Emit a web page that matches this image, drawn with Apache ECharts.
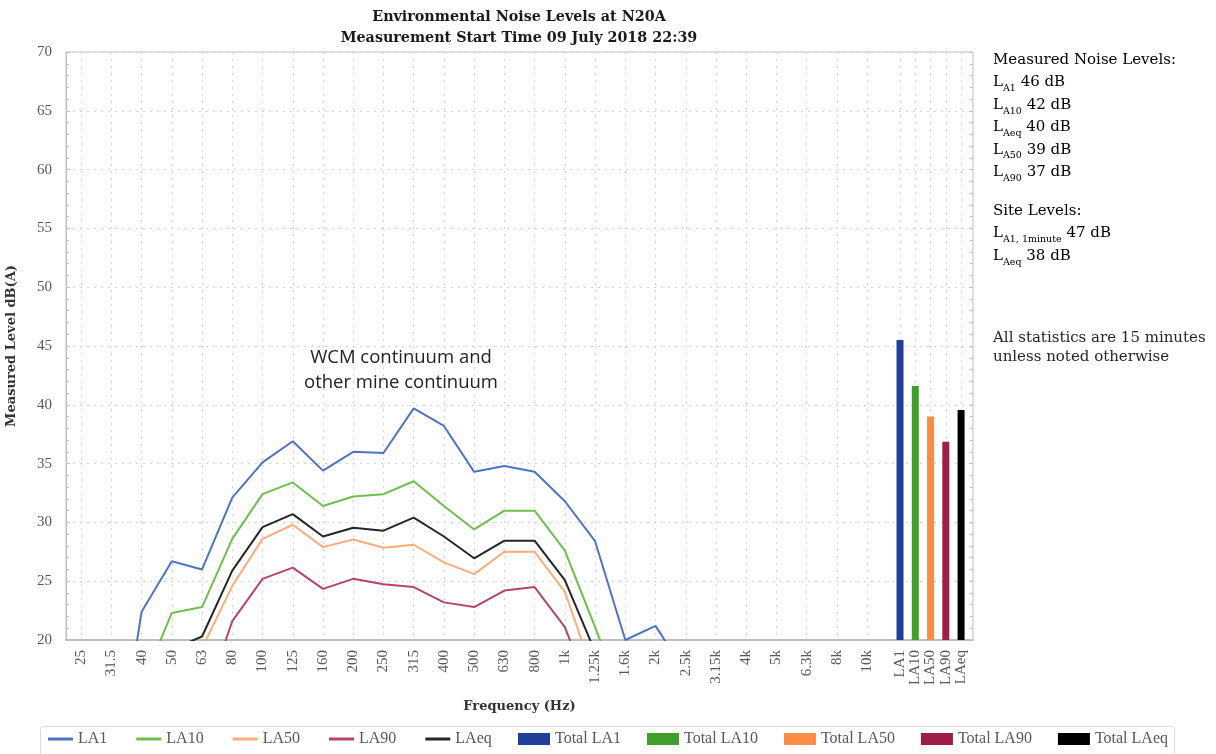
<!DOCTYPE html>
<html><head><meta charset="utf-8">
<script src="https://cdn.jsdelivr.net/npm/echarts@6/dist/echarts.min.js"></script>
<style>html,body{margin:0;padding:0;background:#fff}#c{width:1216px;height:754px}</style>
</head><body><div id="c"></div>
<script>
// ---------- data ----------
const freqLabels = ['25','31.5','40','50','63','80','100','125','160','200','250','315','400','500','630','800','1k','1.25k','1.6k','2k','2.5k','3.15k','4k','5k','6.3k','8k','10k'];
const la1  = [4, 6, 22.4, 26.7, 26.0, 32.1, 35.1, 36.9, 34.4, 36.0, 35.9, 39.7, 38.2, 34.3, 34.8, 34.3, 31.8, 28.4, 20.0, 21.2, 17.2, 15.5, 14, 13, 12, 11, 10];
const la10 = [3, 5, 16.1, 22.3, 22.8, 28.6, 32.4, 33.4, 31.4, 32.2, 32.4, 33.5, 31.4, 29.4, 31.0, 31.0, 27.6, 21.1, 14.4, 12, 11, 10, 9, 8, 7, 6, 5];
const la50 = [1, 3, 9, 15, 19.3, 24.6, 28.6, 29.8, 27.9, 28.55, 27.85, 28.1, 26.6, 25.6, 27.5, 27.5, 24.1, 16.7, 10, 9, 8, 7, 6, 5, 4, 3, 2];
const la90 = [0, 2, 6, 10, 14.1, 21.6, 25.2, 26.15, 24.35, 25.2, 24.75, 24.5, 23.2, 22.8, 24.2, 24.5, 21.1, 14.5, 8, 7, 6, 5, 4, 3, 2, 1, 0];
const laeq = [2, 4, 12, 19.2, 20.3, 25.9, 29.6, 30.7, 28.8, 29.55, 29.3, 30.4, 28.8, 26.95, 28.45, 28.45, 25.1, 19.0, 12, 11, 10, 9, 8, 7, 6, 5, 4];
const lineNames = ['LA1','LA10','LA50','LA90','LAeq'];
const totalLabels = ['LA1','LA10','LA50','LA90','LAeq'];
const totalNames = ['Total LA1','Total LA10','Total LA50','Total LA90','Total LAeq'];
const totalValues = [45.5, 41.6, 39.0, 36.85, 39.55];
const yTicks = [20, 25, 30, 35, 40, 45, 50, 55, 60, 65, 70];
const titleLines = ['Environmental Noise Levels at N20A', 'Measurement Start Time 09 July 2018 22:39'];
const annotationLines = ['WCM continuum and', 'other mine continuum'];
const measuredBlock = ['{m|Measured Noise Levels:}', '{m|L}{s|A1}{m| 46 dB}', '{m|L}{s|A10}{m| 42 dB}', '{m|L}{s|Aeq}{m| 40 dB}', '{m|L}{s|A50}{m| 39 dB}', '{m|L}{s|A90}{m| 37 dB}'];
const siteBlock = ['{m|Site Levels:}', '{m|L}{s|A1, 1minute}{m| 47 dB}', '{m|L}{s|Aeq}{m| 38 dB}'];
const noteBlock = ['All statistics are 15 minutes', 'unless noted otherwise'];

// ---------- styling ----------
const lineColors = ['#4f74c4', '#6fbf4b', '#ffab7a', '#b4456f', '#262626'];
const barColors = ['#213f99', '#41a02c', '#fb8c46', '#9e1e48', '#000000'];
const serif = 'Liberation Serif';
const pal = 'DejaVu Serif';
const gridC = '#bfbfbf';
const dotC = '#d3d3d3';

// half-step slots: frequency i sits on slot 2i+1
const nSlots = 2 * freqLabels.length + 7;
const slots = Array.from({length: nSlots}, () => '');
freqLabels.forEach((f, i) => { slots[2 * i + 1] = f; });
const toSlots = arr => { const out = Array.from({length: nSlots}, () => null); arr.forEach((v, i) => { out[2 * i + 1] = v; }); return out; };
const lineData = [la1, la10, la50, la90, laeq];

const plot = {left: 66, top: 52, width: 907, height: 588};

const chart = echarts.init(document.getElementById('c'), null, {renderer: 'canvas'});

const series = [];
lineNames.forEach((n, k) => {
  series.push({
    name: n, type: 'line', xAxisIndex: 0, yAxisIndex: 0,
    data: toSlots(lineData[k]), connectNulls: true,
    showSymbol: false, symbol: 'none', clip: true,
    lineStyle: {width: 2, color: lineColors[k]}, itemStyle: {color: lineColors[k]},
    z: 3, animation: false
  });
});
totalNames.forEach((n, k) => {
  series.push({
    name: n, type: 'bar', xAxisIndex: 1, yAxisIndex: 2,
    data: totalLabels.map((_, j) => j === k ? totalValues[k] : '-'),
    barWidth: 7, barGap: '-100%', clip: true,
    itemStyle: {color: barColors[k]}, animation: false
  });
});

const graphics = [];
titleLines.forEach((t, i) => graphics.push({
  type: 'text', x: 519, y: 17 + i * 21,
  style: {text: t, font: 'bold 14.3px "' + pal + '"', fill: '#1a1a1a', textAlign: 'center', textVerticalAlign: 'middle'}
}));
annotationLines.forEach((t, i) => graphics.push({
  type: 'text', x: 401, y: 358 + i * 25, z: 10,
  style: {text: t, font: '18.5px "Open Sans"', fill: '#222', textAlign: 'center', textVerticalAlign: 'middle'}
}));
const rich = {
  m: {fontFamily: pal, fontSize: 15, color: '#262626', lineHeight: 22.4},
  s: {fontFamily: pal, fontSize: 9.5, color: '#404040', lineHeight: 13, verticalAlign: 'bottom'}
};
graphics.push({type: 'text', x: 993, y: 49, style: {text: measuredBlock.join('\n'), rich: rich, textAlign: 'left', textVerticalAlign: 'top'}});
graphics.push({type: 'text', x: 993, y: 200, style: {text: siteBlock.join('\n'), rich: rich, textAlign: 'left', textVerticalAlign: 'top'}});
graphics.push({type: 'text', x: 993, y: 328, style: {text: noteBlock.join('\n'), font: '15px "' + pal + '"', fill: '#262626', lineHeight: 19.5, textAlign: 'left', textVerticalAlign: 'top'}});
graphics.push({type: 'rect', shape: {x: 40.5, y: 726.5, width: 1134, height: 40, r: 3}, style: {fill: 'none', stroke: '#d9d9d9', lineWidth: 1}, z: -1});

const option = {
  backgroundColor: '#fff',
  animation: false,
  grid: [
    Object.assign({show: true, borderColor: gridC, borderWidth: 1, backgroundColor: 'transparent', containLabel: false, outerBoundsMode: 'none'}, plot),
    {left: 892.4, width: 76.3, top: plot.top, height: plot.height, show: false, containLabel: false, outerBoundsMode: 'none'}
  ],
  xAxis: [
    {
      gridIndex: 0, type: 'category', boundaryGap: false, data: slots,
      name: 'Frequency (Hz)', nameLocation: 'middle', nameGap: 60,
      nameTextStyle: {fontFamily: pal, fontWeight: 'bold', fontSize: 13, color: '#333'},
      axisLine: {show: true, lineStyle: {color: gridC, width: 2}},
      axisTick: {show: false},
      axisLabel: {interval: 0, rotate: 90, margin: 10, fontFamily: serif, fontSize: 15, color: '#595959', hideOverlap: false},
      splitLine: {show: true, interval: (i) => i % 2 === 1 && i <= 2 * freqLabels.length - 1, lineStyle: {color: dotC, type: [2, 5], width: 1}}
    },
    {
      gridIndex: 1, type: 'category', boundaryGap: true, data: totalLabels,
      axisLine: {show: false}, axisTick: {show: false},
      axisLabel: {interval: 0, rotate: 90, margin: 10, fontFamily: serif, fontSize: 15, color: '#595959', hideOverlap: false},
      splitLine: {show: true, alignWithLabel: true, lineStyle: {color: dotC, type: [2, 5], width: 1}}
    }
  ],
  yAxis: [
    {
      gridIndex: 0, type: 'value', min: yTicks[0], max: yTicks[yTicks.length - 1], interval: yTicks[1] - yTicks[0],
      name: 'Measured Level dB(A)', nameLocation: 'middle', nameGap: 48, nameRotate: 90,
      nameTextStyle: {fontFamily: pal, fontWeight: 'bold', fontSize: 13, color: '#333'},
      axisLine: {show: true, lineStyle: {color: gridC, width: 1}},
      axisTick: {show: true, inside: true, length: 4, lineStyle: {color: gridC}},
      minorTick: {show: true, splitNumber: 5, length: 3, lineStyle: {color: gridC}},
      axisLabel: {margin: 14, fontFamily: serif, fontSize: 15, color: '#595959'},
      splitLine: {show: true, lineStyle: {color: dotC, type: [2, 5], width: 1}}
    },
    {
      gridIndex: 0, type: 'value', position: 'right', min: yTicks[0], max: yTicks[yTicks.length - 1], interval: yTicks[1] - yTicks[0],
      axisLine: {show: false}, axisLabel: {show: false}, splitLine: {show: false},
      axisTick: {show: true, inside: true, length: 4, lineStyle: {color: gridC}},
      minorTick: {show: true, splitNumber: 5, length: 3, lineStyle: {color: gridC}}
    },
    {gridIndex: 1, type: 'value', min: yTicks[0], max: yTicks[yTicks.length - 1], show: false, splitLine: {show: false}}
  ],
  legend: [
    {
      data: lineNames, left: 48, top: 731, padding: 0, icon: 'rect', itemWidth: 25, itemHeight: 3, itemGap: 29,
      textStyle: {fontFamily: serif, fontSize: 16, color: '#595959'}, selectedMode: false
    },
    {
      data: totalNames, left: 518, top: 731, padding: 0, icon: 'rect', itemWidth: 32, itemHeight: 12, itemGap: 26,
      textStyle: {fontFamily: serif, fontSize: 16, color: '#595959'}, selectedMode: false
    }
  ],
  graphic: graphics,
  series: series
};
chart.setOption(option);
</script>
</body></html>
